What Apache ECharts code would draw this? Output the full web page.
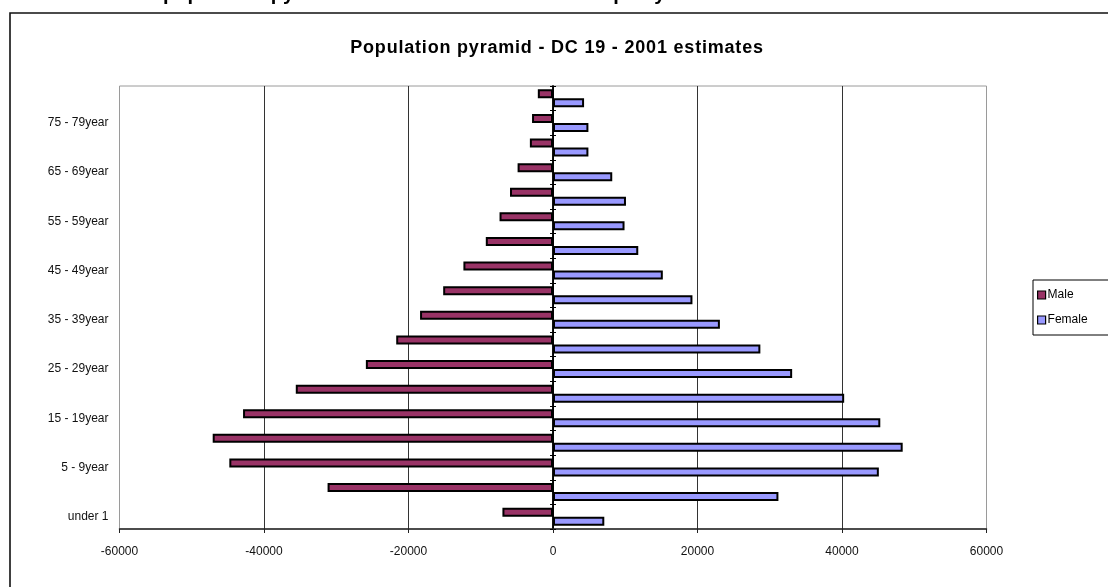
<!DOCTYPE html>
<html>
<head>
<meta charset="utf-8">
<script src="https://cdn.jsdelivr.net/npm/echarts@6/dist/echarts.min.js"></script>
<style>
  html, body { margin: 0; padding: 0; background: #fff; }
  #chart { width: 1108px; height: 587px; }
</style>
</head>
<body>
<div id="chart"></div>
<script>
// Age groups, bottom to top
const ageGroups = [
  'under 1', '1 - 4year', '5 - 9year', '10 - 14year', '15 - 19year', '20 - 24year',
  '25 - 29year', '30 - 34year', '35 - 39year', '40 - 44year', '45 - 49year',
  '50 - 54year', '55 - 59year', '60 - 64year', '65 - 69year', '70 - 74year',
  '75 - 79year', '80+year'
];
// Males are plotted as negative numbers so they extend to the left
const maleValues = [
  -7000, -31200, -44800, -47100, -42900, -35600,
  -25900, -21700, -18400, -15200, -12400,
  -9300, -7400, -5950, -4900, -3200,
  -2900, -2100
];
const femaleValues = [
  7100, 31200, 45100, 48400, 45300, 40300,
  33100, 28700, 23100, 19300, 15200,
  11800, 9900, 10100, 8200, 4900,
  4900, 4300
];
const xTicks = { min: -60000, max: 60000, step: 20000 };

const TITLE = 'Population pyramid - DC 19 - 2001 estimates';
const FONT = '"Liberation Sans", Arial, sans-serif';

// Draw the chart title with slightly open tracking; every other text is untouched
const baseFillText = CanvasRenderingContext2D.prototype.fillText;
CanvasRenderingContext2D.prototype.fillText = function (text, x, y, maxWidth) {
  const args = maxWidth === undefined ? [text, x, y] : [text, x, y, maxWidth];
  if (text === TITLE && 'letterSpacing' in this) {
    this.save();
    const f = this.font;
    this.letterSpacing = '0.8px';
    this.font = f;
    const r = baseFillText.apply(this, args);
    this.restore();
    this.letterSpacing = '0px';
    this.font = this.font;
    return r;
  }
  return baseFillText.apply(this, args);
};

const chart = echarts.init(document.getElementById('chart'), null, { renderer: 'canvas' });

// Category axis pinned to x = 0; two copies give ticks crossing the line
const zeroAxis = (inside) => ({
  type: 'category',
  data: ageGroups,
  position: 'left',
  axisLine: { show: true, onZero: true, onZeroAxisIndex: 0, lineStyle: { color: '#000', width: 1.5 } },
  axisTick: { show: true, inside: inside, length: 3, interval: 0, lineStyle: { color: '#000', width: 1 } },
  axisLabel: { show: false },
  splitLine: { show: false }
});

chart.setOption({
  animation: false,
  backgroundColor: '#fff',
  graphic: [
    {
      type: 'text',
      left: 122, top: -16,
      style: { text: 'The population pyramid of the DC 19 district municipality', font: 'bold 20px ' + FONT, fill: '#000' }
    },
    {
      type: 'text',
      x: 557, y: 39,
      style: { text: TITLE, font: 'bold 18px ' + FONT, fill: '#000', align: 'center', verticalAlign: 'top' }
    },
    {
      type: 'rect',
      shape: { x: 10, y: 13, width: 1300, height: 800 },
      style: { fill: 'none', stroke: '#111', lineWidth: 1.6 },
      z: 100
    }
  ],
  legend: {
    data: ['Male', 'Female'],
    orient: 'vertical',
    left: 1033,
    top: 280,
    borderColor: '#000',
    borderWidth: 1,
    borderRadius: 0,
    padding: [9, 30, 9, 4],
    itemWidth: 8,
    itemHeight: 8,
    itemGap: 13,
    icon: 'rect',
    itemStyle: { borderColor: '#000', borderWidth: 1.2 },
    textStyle: { fontFamily: FONT, fontSize: 12, color: '#000', padding: [0, 0, 0, -3] }
  },
  grid: {
    left: 119.5,
    right: 121.5,
    top: 86,
    bottom: 58,
    show: true,
    borderColor: '#9a9a9a',
    borderWidth: 1,
    backgroundColor: 'transparent'
  },
  xAxis: {
    type: 'value',
    min: xTicks.min,
    max: xTicks.max,
    interval: xTicks.step,
    axisLine: { show: true, onZero: false, lineStyle: { color: '#222', width: 1.5 } },
    axisTick: { show: true, length: 4, lineStyle: { color: '#222' } },
    axisLabel: { fontFamily: FONT, fontSize: 12, color: '#111', margin: 17, formatter: (v) => String(v) },
    splitLine: {
      show: true,
      lineStyle: { color: ['#9a9a9a', '#333', '#333', '#333', '#333', '#333', '#9a9a9a'], width: 1 }
    }
  },
  yAxis: [
    {
      type: 'category',
      data: ageGroups,
      position: 'left',
      axisLine: { show: false, onZero: false },
      axisTick: { show: false },
      axisLabel: { interval: 1, fontFamily: FONT, fontSize: 12, color: '#111', margin: 11 },
      splitLine: { show: false }
    },
    zeroAxis(false),
    zeroAxis(true)
  ],
  series: [
    {
      name: 'Male',
      type: 'bar',
      data: maleValues,
      barWidth: 9,
      barGap: '0%',
      itemStyle: { color: '#993366', borderColor: '#000', borderWidth: 2 }
    },
    {
      name: 'Female',
      type: 'bar',
      data: femaleValues,
      barWidth: 9,
      barGap: '0%',
      itemStyle: { color: '#9999FF', borderColor: '#000', borderWidth: 2 }
    }
  ]
});
</script>
</body>
</html>
